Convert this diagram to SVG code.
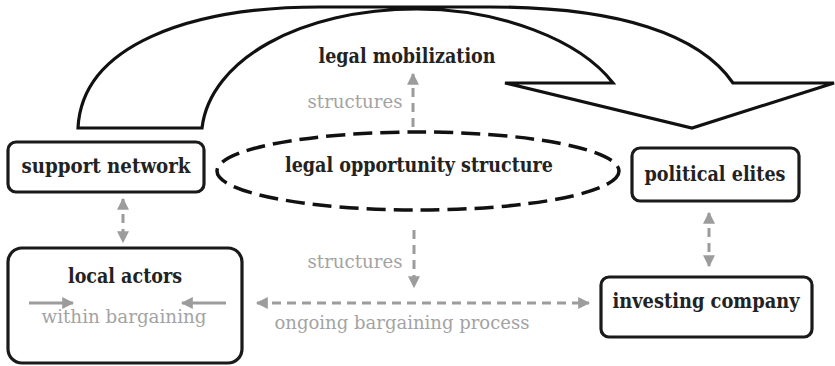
<svg xmlns="http://www.w3.org/2000/svg" width="835" height="366" viewBox="0 0 835 366">
<defs>
<style>
.box{fill:#fff;stroke:#1a1a1a;stroke-width:3.2}
.lbl{font-family:"DejaVu Serif","Liberation Serif",serif;font-weight:bold;font-size:20.5px;fill:#222;text-anchor:middle}
.gl{font-family:"DejaVu Serif","Liberation Serif",serif;font-size:18.5px;fill:#a3a3a3;text-anchor:middle}
.dash{stroke:#9c9c9c;stroke-width:3;fill:none;stroke-dasharray:9 6}
.solid{stroke:#9c9c9c;stroke-width:3;fill:none}
</style>
<marker id="ah" viewBox="0 0 10 10" refX="9" refY="5" markerWidth="4" markerHeight="4" orient="auto-start-reverse" markerUnits="strokeWidth">
<path d="M0,0 L10,5 L0,10 Z" fill="#9c9c9c"/>
</marker>
</defs>
<rect width="835" height="366" fill="#fff"/>
<g id="mobilization-arrow">
<path d="M78,128 C82,45 190,7 320,7 L490,7 C620,7 700,35 733,83 L834,83 L692,128 L505,83 L613,83 C580,40 500,9 417,9 C300,9 210,60 202,128 Z" fill="#fff" stroke="#111" stroke-width="3.2" stroke-linejoin="miter"/>
</g>
<g id="legal-mobilization">
<text class="lbl" x="407" y="63" textLength="177" lengthAdjust="spacingAndGlyphs">legal mobilization</text>
</g>
<g id="support-network">
<rect class="box" x="8" y="142" width="196" height="50" rx="8"/>
<text class="lbl" x="106" y="173" textLength="169" lengthAdjust="spacingAndGlyphs">support network</text>
</g>
<g id="legal-opportunity-structure">
<ellipse cx="418" cy="171" rx="201" ry="39" fill="none" stroke="#111" stroke-width="3.5" stroke-dasharray="19 8"/>
<text class="lbl" x="419" y="172" textLength="268" lengthAdjust="spacingAndGlyphs">legal opportunity structure</text>
</g>
<g id="political-elites">
<rect class="box" x="632" y="148" width="167" height="53" rx="8"/>
<text class="lbl" x="715" y="181" textLength="141" lengthAdjust="spacingAndGlyphs">political elites</text>
</g>
<g id="local-actors">
<rect class="box" x="8" y="248" width="234" height="115" rx="14"/>
<text class="lbl" x="125" y="283" textLength="114" lengthAdjust="spacingAndGlyphs">local actors</text>
<text class="gl" x="124" y="323" textLength="165" lengthAdjust="spacingAndGlyphs">within bargaining</text>
<line class="solid" x1="29" y1="303" x2="73" y2="303" marker-end="url(#ah)"/>
<line class="solid" x1="226" y1="303" x2="182" y2="303" marker-end="url(#ah)"/>
</g>
<g id="investing-company">
<rect class="box" x="601" y="277" width="211" height="60" rx="8"/>
<text class="lbl" x="706" y="308" textLength="187" lengthAdjust="spacingAndGlyphs">investing company</text>
</g>
<g id="connectors">
<line class="dash" x1="413" y1="127" x2="413" y2="74" marker-end="url(#ah)" stroke-dasharray="10 7"/>
<text class="gl" x="355" y="108" textLength="95" lengthAdjust="spacingAndGlyphs">structures</text>
<line class="dash" x1="414" y1="230" x2="414" y2="287" marker-end="url(#ah)" stroke-dasharray="12 7"/>
<text class="gl" x="355" y="268" textLength="95" lengthAdjust="spacingAndGlyphs">structures</text>
<line class="dash" x1="257" y1="303" x2="589" y2="303" marker-start="url(#ah)" marker-end="url(#ah)" stroke-dasharray="10 8"/>
<text class="gl" x="402" y="329" textLength="255" lengthAdjust="spacingAndGlyphs">ongoing bargaining process</text>
<line class="dash" x1="123" y1="199" x2="123" y2="242" marker-start="url(#ah)" marker-end="url(#ah)" stroke-dasharray="10 8"/>
<line class="dash" x1="709" y1="213" x2="709" y2="266" marker-start="url(#ah)" marker-end="url(#ah)" stroke-dasharray="12 10"/>
</g>
</svg>
